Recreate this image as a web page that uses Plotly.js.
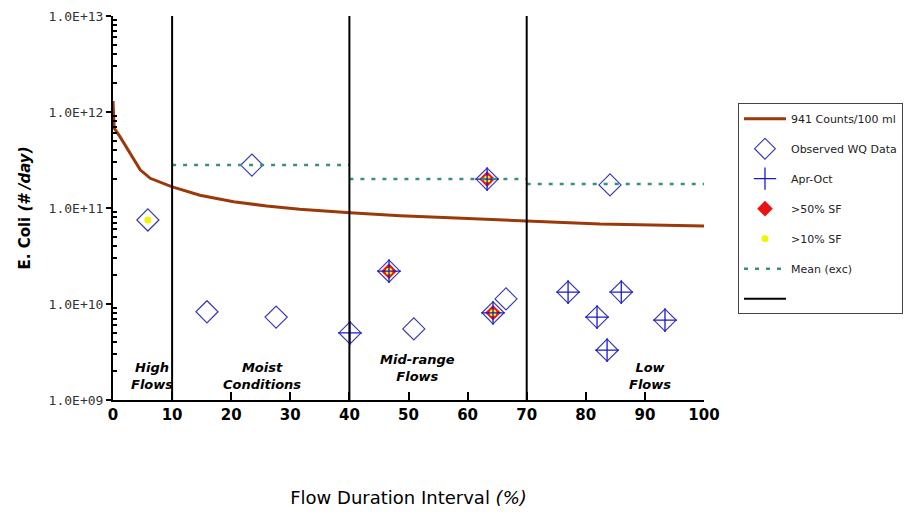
<!DOCTYPE html>
<html><head><meta charset="utf-8">
<script src="https://cdn.plot.ly/plotly-3.0.1.min.js"></script>
<style>html,body{margin:0;padding:0;background:#fff}</style>
</head><body><div id="c" style="width:916px;height:517px"></div>
<script>
// Load duration curve (941 counts/100 ml)
var curveX = [0, 0.2, 1.2, 4.6, 6.3, 9.9, 14.7, 20.4, 26, 31.6, 40.1, 48.6, 57, 70, 82.4, 100];
var curveY = [1.3e12, 6.8e11, 5.5e11, 2.5e11, 2.04e11, 1.67e11, 1.36e11, 1.16e11, 1.05e11, 9.7e10, 8.9e10, 8.3e10, 7.9e10, 7.3e10, 6.8e10, 6.5e10];
// Observed WQ data
var obsX = [5.9, 15.9, 23.5, 27.6, 40.1, 46.7, 50.9, 63.3, 64.3, 66.5, 77.0, 81.9, 83.6, 84.1, 86.0, 93.4];
var obsY = [7.5e10, 8.3e9, 2.8e11, 7.3e9, 5.0e9, 2.2e10, 5.5e9, 2.0e11, 8.1e9, 1.13e10, 1.33e10, 7.3e9, 3.3e9, 1.74e11, 1.33e10, 6.8e9];
// Apr-Oct samples
var aprX = [40.1, 46.7, 63.3, 64.3, 77.0, 81.9, 83.6, 86.0, 93.4];
var aprY = [5.0e9, 2.2e10, 2.0e11, 8.1e9, 1.33e10, 7.3e9, 3.3e9, 1.33e10, 6.8e9];
// >50% SF
var sf50X = [46.7, 63.3, 64.3];
var sf50Y = [2.2e10, 2.0e11, 8.1e9];
// >10% SF
var sf10X = [5.9, 46.7, 63.3, 64.3];
var sf10Y = [7.5e10, 2.2e10, 2.0e11, 8.1e9];
// Mean (exceedances) per zone
var zoneStart = [10, 40, 70];
var zoneEnd = [40, 70, 100];
var meanVals = [2.8e11, 2.0e11, 1.78e11];
// Zone boundaries
var zoneBounds = [10, 40, 70];
var yMin = 1e9, yMax = 1e13;
var zoneNames = ["High<br>Flows", "Moist<br>Conditions", "Mid-range<br>Flows", "Low<br>Flows"];
var zoneLabelX = [6.6, 25.2, 51.6, 90.9];
var zoneLabelY = [0.062, 0.062, 0.083, 0.062];
var yTickVals = [1e9, 1e10, 1e11, 1e12, 1e13];
var yTickText = ["1.0E+09", "1.0E+10", "1.0E+11", "1.0E+12", "1.0E+13"];

var meanX = [], meanY = [];
for (var i = 0; i < zoneStart.length; i++) {
  meanX.push(zoneStart[i], zoneEnd[i], null);
  meanY.push(meanVals[i], meanVals[i], null);
}
var vX = [], vY = [];
zoneBounds.forEach(function (b) { vX.push(b, b, null); vY.push(yMin, yMax, null); });
var minorVals = [];
for (var d = 9; d < 13; d++) for (var m = 2; m <= 9; m++) minorVals.push(m * Math.pow(10, d));

var traces = [
  {x: curveX, y: curveY, mode: 'lines', name: '941 Counts/100 ml', legendrank: 1,
   line: {color: '#9a3a0a', width: 3}},
  {x: obsX, y: obsY, mode: 'markers', name: 'Observed WQ Data', legendrank: 2,
   marker: {symbol: 'diamond-open', size: 17, color: '#3b3bb0', line: {width: 1.2, color: '#3b3bb0'}}},
  {x: sf50X, y: sf50Y, mode: 'markers', name: '>50% SF', legendrank: 4,
   marker: {symbol: 'diamond', size: 12, color: '#ee1111'}},
  {x: sf10X, y: sf10Y, mode: 'markers', name: '>10% SF', legendrank: 5,
   marker: {symbol: 'circle', size: 7, color: '#f4f400'}},
  {x: aprX, y: aprY, mode: 'markers', name: 'Apr-Oct', legendrank: 3,
   marker: {symbol: 'cross-thin-open', size: 17, color: '#1a1acc', line: {width: 1.3, color: '#1a1acc'}}},
  {x: meanX, y: meanY, mode: 'lines', name: 'Mean (exc)', legendrank: 6,
   line: {color: '#3a8f80', width: 2.5, dash: '4px,7px'}},
  {x: vX, y: vY, mode: 'lines', name: ' ', legendrank: 7,
   line: {color: '#000', width: 2}}
];
traces.forEach(function (t, i) { t.legendgroup = 'g' + i; });

var annotations = zoneNames.map(function (t, i) {
  return {x: zoneLabelX[i], y: zoneLabelY[i], xref: 'x', yref: 'paper', yanchor: 'middle', xanchor: 'center',
    text: '<b><i>' + t + '</i></b>',
    showarrow: false, font: {family: 'DejaVu Sans', size: 13, color: '#000'}, align: 'center'};
});

var layout = {
  width: 916, height: 517,
  margin: {l: 113, r: 212, t: 16, b: 117},
  paper_bgcolor: '#fff', plot_bgcolor: '#fff',
  showlegend: true,
  legend: {x: 1.0575, y: 0.773, xanchor: 'left', yanchor: 'top', bordercolor: '#444', borderwidth: 1,
    font: {family: 'DejaVu Sans', size: 11, color: '#222'}, traceorder: 'grouped', tracegroupgap: 11,
    itemwidth: 42, bgcolor: '#fff'},
  xaxis: {range: [0, 100], dtick: 10, tick0: 0, showgrid: false, zeroline: false,
    showline: true, linecolor: '#000', linewidth: 2, ticks: 'inside', ticklen: 8, tickwidth: 2, tickcolor: '#000',
    tickfont: {family: 'DejaVu Sans', size: 15, color: '#000', weight: 'bold'},
    title: {text: 'Flow Duration Interval <i>(%)</i>', font: {family: 'DejaVu Sans', size: 18, color: '#000'}, standoff: 68}},
  yaxis: {type: 'log', range: [9, 13], tickmode: 'array', tickvals: yTickVals, ticktext: yTickText,
    showgrid: false, zeroline: false, showline: true, linecolor: '#000', linewidth: 2,
    ticks: 'outside', ticklen: 5, tickwidth: 2, tickcolor: '#000',
    tickfont: {family: 'DejaVu Sans Mono', size: 13, color: '#333'},
    minor: {tickmode: 'array', tickvals: minorVals, ticks: 'inside', ticklen: 4, tickwidth: 2, tickcolor: '#000', showgrid: false},
    title: {text: '<b>E. Coli <i>(# /day)</i></b>', font: {family: 'DejaVu Sans', size: 15, color: '#000'}, standoff: 14}},
  annotations: annotations
};
Plotly.newPlot('c', traces, layout, {staticPlot: true, displayModeBar: false});
</script></body></html>
